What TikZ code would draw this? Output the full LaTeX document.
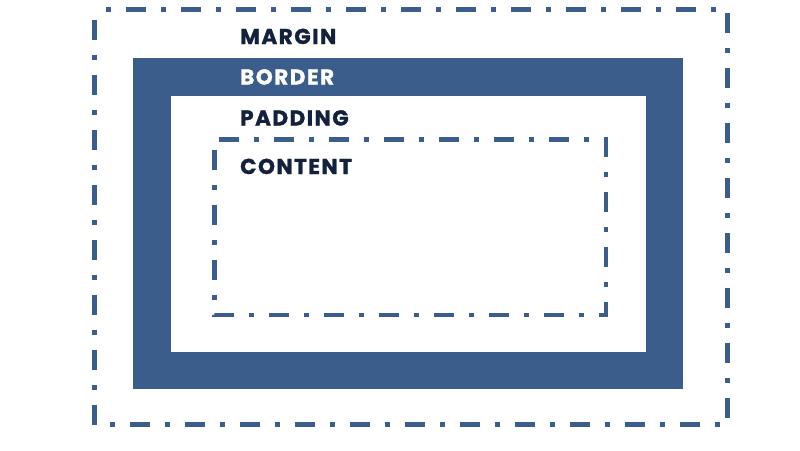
\documentclass[tikz,border=0pt]{standalone}
\usepackage{fontspec}
\setsansfont{Poppins}[LetterSpace=7, BoldFeatures={FakeBold=1.2}]
\definecolor{boxblue}{HTML}{3A5D8B}
\definecolor{labelnavy}{HTML}{13213C}
\tikzset{
  dashdot/.style={draw=boxblue, line width=4.5pt, dash pattern=on 20pt off 15pt on 5pt off 15pt, dash phase=45pt},
  boxtext/.style={anchor=base west, inner sep=0pt, text=labelnavy, font=\sffamily\bfseries\fontsize{21.5}{24}\selectfont}
}

\begin{document}
\begin{tikzpicture}[x=1pt,y=-1pt]
		\useasboundingbox (0,0) rectangle (800,450);
		%%%%% MARGIN %%%%%
		\draw[dashdot] (94.5,9.5) rectangle (727.5,424.5);
		
		%%%%% BORDER %%%%%
		\fill[boxblue] (133,58) rectangle (683,389);
		\fill[white] (171,96) rectangle (645.5,352);
		
		%%%%% CONTENT %%%%%
		\draw[dashdot] (214.5,139.5) rectangle (606,315);
		
		\node[boxtext] (margin) at (240,44) {MARGIN};
		\node[boxtext, text=white] (border) at (240,84.5) {BORDER};
		\node[boxtext] (padding) at (240,125.5) {PADDING};
		\node[boxtext] (content) at (240,174) {CONTENT};
	\end{tikzpicture}
\end{document}
